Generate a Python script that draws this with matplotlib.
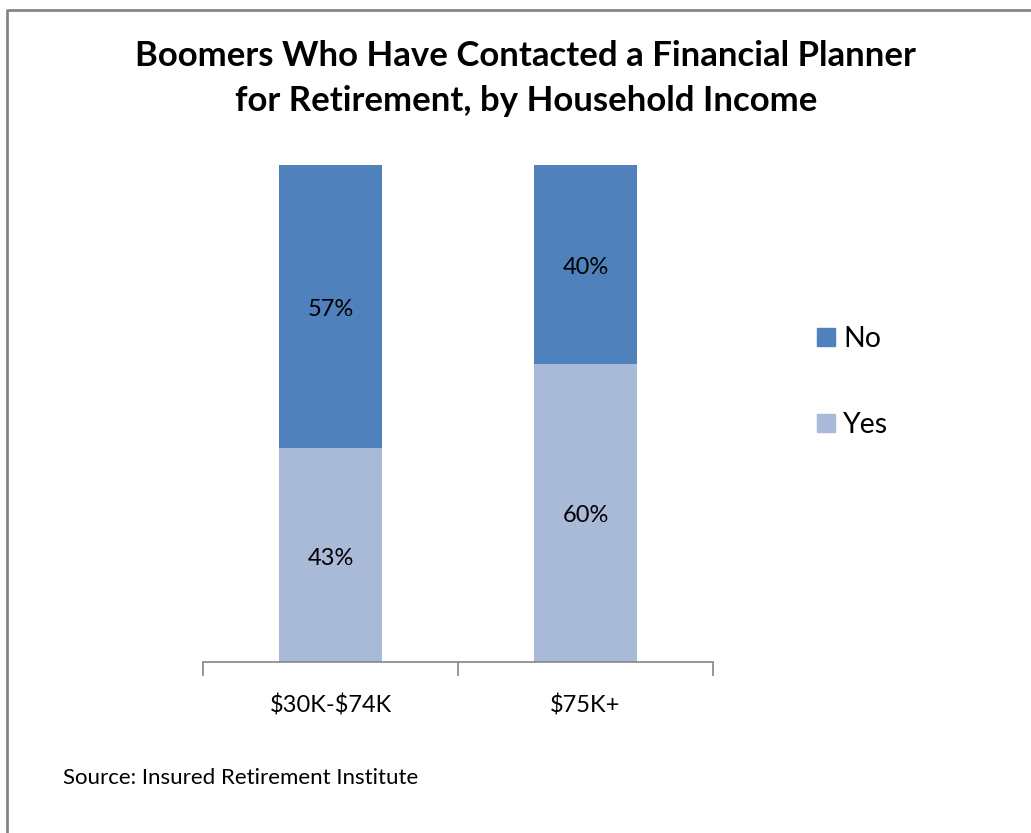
import matplotlib.pyplot as plt
from matplotlib.lines import Line2D
from matplotlib.patches import Patch

plt.rcParams['font.family'] = ['Lato', 'DejaVu Sans']

income_groups = [r"\$30K-\$74K", r"\$75K+"]
yes_share = [43, 60]
no_share = [57, 40]

yes_color = "#A9B9D8"
no_color = "#4F81BD"

fig = plt.figure(figsize=(10.31, 8.33), dpi=100)
ax = fig.add_axes([0.1969, 0.2053, 0.4947, 0.5966])

x = range(len(income_groups))
yes_bars = ax.bar(x, yes_share, width=0.404, color=yes_color)
no_bars = ax.bar(x, no_share, width=0.404, bottom=yes_share, color=no_color)

for bars, vals, bottoms in [(yes_bars, yes_share, [0, 0]), (no_bars, no_share, yes_share)]:
    for b, v, b0 in zip(bars, vals, bottoms):
        ax.text(b.get_x() + b.get_width() / 2, b0 + v / 2 - 0.6, f"{v}%",
                ha="center", va="center", fontsize=17, color="black")

ax.set_xlim(-0.5, 1.5)
ax.set_ylim(0, 100)
for side in ["top", "right", "left"]:
    ax.spines[side].set_visible(False)
ax.spines["bottom"].set_color("#868686")
ax.spines["bottom"].set_linewidth(1.2)
ax.set_yticks([])
ax.set_xticks([-0.5, 0.5, 1.5])
ax.set_xticklabels([])
ax.tick_params(axis="x", length=10, width=1.2, color="#868686")
for i, name in enumerate(income_groups):
    ax.text(i, -8.8, name, ha="center", va="center", fontsize=17)

handles = [Patch(color=no_color), Patch(color=yes_color)]
fig.legend(handles, ["No", "Yes"], loc="center left",
           bbox_to_anchor=(0.768, 0.541), frameon=False, fontsize=20.5,
           handlelength=0.6, handleheight=0.6, handletextpad=0.3,
           labelspacing=2.1)

fig.text(0.510, 0.906, "Boomers Who Have Contacted a Financial Planner\nfor Retirement, by Household Income",
         ha="center", va="center", fontsize=25, fontweight="bold", linespacing=1.5)

fig.text(0.061, 0.066, "Source: Insured Retirement Institute", ha="left", va="center", fontsize=16)

# outer frame, top and left edges
fig.add_artist(Line2D([0.0065, 0.0065, 1.0], [0.0, 0.9885, 0.9885],
                      transform=fig.transFigure, color="#868686", linewidth=2))

fig.savefig("out.png", dpi=100)
